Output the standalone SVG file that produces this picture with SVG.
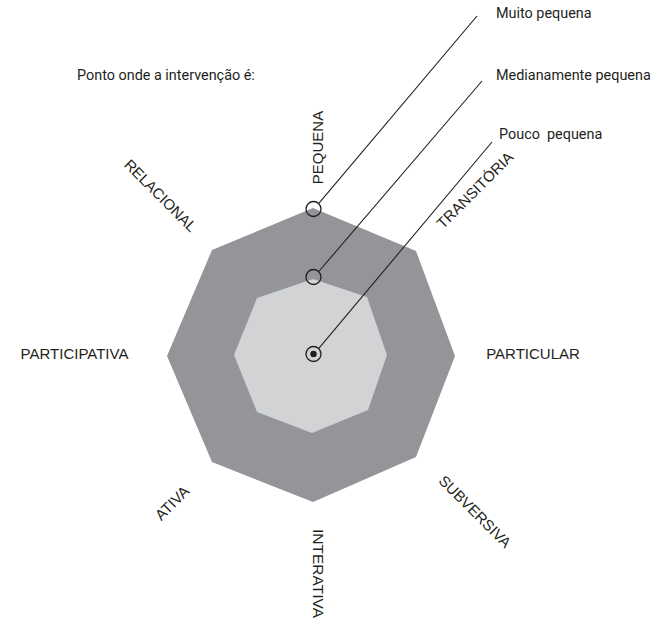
<svg xmlns="http://www.w3.org/2000/svg" width="664" height="633" viewBox="0 0 664 633">
  <style>
    .note { font-family: Roboto, "Liberation Sans", sans-serif; font-size: 14.4px; fill: #231f20; white-space: pre; }
    .axis { font-family: "Liberation Sans", Arial, sans-serif; font-size: 15px; fill: #231f20; text-anchor: middle; }
    .lead { stroke: #231f20; stroke-width: 1.1; fill: none; }
    .marker { stroke: #231f20; stroke-width: 1.3; fill: none; }
  </style>
  <rect width="664" height="633" fill="#ffffff"/>

  <g id="outer-octagon">
    <polygon points="313,208 416,251 455,356 416,457 313,502 212,462 167,356 212,250" fill="#939598"/>
  </g>
  <g id="inner-octagon">
    <polygon points="313,279 367,297 387,355 368,410 312,433 257,412 234,355 257,298" fill="#d1d3d4"/>
  </g>

  <g id="connectors">
    <line class="lead" x1="318.8" y1="203.3" x2="477" y2="16"/>
    <line class="lead" x1="318.8" y1="271.5" x2="482" y2="81"/>
    <line class="lead" x1="318.8" y1="348.3" x2="492" y2="142"/>
  </g>

  <g id="point-muito">
    <circle class="marker" cx="313.5" cy="209" r="7.5"/>
  </g>
  <g id="point-medianamente">
    <circle class="marker" cx="313.5" cy="277" r="7.5"/>
  </g>
  <g id="point-pouco">
    <circle class="marker" cx="313.5" cy="354" r="7.5"/>
    <circle cx="313.5" cy="354" r="3.2" fill="#231f20"/>
  </g>

  <g id="notes">
    <text class="note" x="77" y="80">Ponto onde a intervenção é:</text>
    <text class="note" x="496" y="18">Muito pequena</text>
    <text class="note" x="496" y="80">Medianamente pequena</text>
    <text class="note" x="499" y="139" xml:space="preserve">Pouco  pequena</text>
  </g>

  <g id="axis-labels">
    <text class="axis" transform="translate(317.5,147.5) rotate(-90)" y="5.3">PEQUENA</text>
    <text class="axis" transform="translate(475,190) rotate(-45)" y="5.3">TRANSITÓRIA</text>
    <text class="axis" x="533" y="359">PARTICULAR</text>
    <text class="axis" transform="translate(475,511.5) rotate(45)" y="5.3">SUBVERSIVA</text>
    <text class="axis" transform="translate(318,573.5) rotate(90)" y="5.3" style="font-size:15.5px">INTERATIVA</text>
    <text class="axis" transform="translate(172,503) rotate(-45)" y="5.3">ATIVA</text>
    <text class="axis" x="74.5" y="359">PARTICIPATIVA</text>
    <text class="axis" transform="translate(160.5,195.5) rotate(45)" y="5.3">RELACIONAL</text>
  </g>
</svg>
